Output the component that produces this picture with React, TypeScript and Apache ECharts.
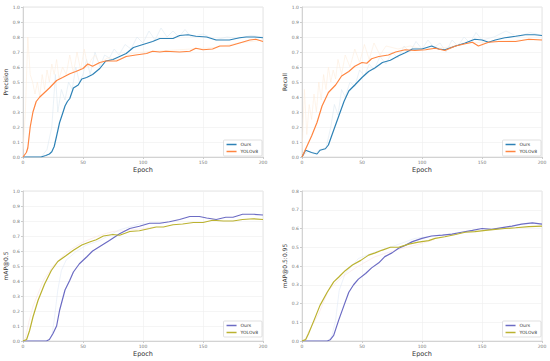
import React, { useEffect, useRef } from "react";
import * as echarts from "echarts";

// ---------- Precision ----------
const pOursX = [0, 10, 15, 19, 22, 24, 26, 28, 30.5, 33, 35, 37, 39, 42, 46, 49, 53, 58, 64, 69, 75, 80.5, 86, 92, 100, 108, 114, 120, 125, 130.5, 137.5, 144, 153, 161, 172, 180.5, 186, 193, 200];
const pOursY = [0, 0, 0, 0.01, 0.02, 0.035, 0.07, 0.14, 0.23, 0.29, 0.34, 0.37, 0.39, 0.46, 0.48, 0.52, 0.53, 0.55, 0.59, 0.64, 0.65, 0.67, 0.69, 0.73, 0.75, 0.77, 0.79, 0.79, 0.79, 0.81, 0.815, 0.805, 0.8, 0.78, 0.78, 0.795, 0.8, 0.8, 0.795];
const pYoloX = [0, 2.8, 4, 5, 6, 8.3, 11, 14, 18, 22, 28, 33, 39, 44, 50, 54, 58, 64, 69, 78, 86, 94, 103, 108, 114, 119, 130.5, 139, 144, 150, 158, 164, 172, 180.5, 189, 194, 200];
const pYoloY = [0, 0.03, 0.06, 0.13, 0.2, 0.3, 0.37, 0.4, 0.43, 0.46, 0.51, 0.53, 0.555, 0.57, 0.59, 0.62, 0.605, 0.63, 0.64, 0.64, 0.67, 0.68, 0.69, 0.705, 0.7, 0.705, 0.7, 0.705, 0.725, 0.715, 0.72, 0.74, 0.74, 0.76, 0.78, 0.785, 0.77];
const pOursRawX = [0, 15, 20, 24, 27, 29, 32, 35, 38, 41, 44, 47, 50, 53, 56, 60, 64, 68, 72, 76, 80, 85, 90, 95, 100, 105, 110, 115, 120, 125, 130, 135, 140, 150, 160, 170, 180, 190, 200];
const pOursRawY = [0, 0, 0.05, 0.2, 0.55, 0.3, 0.45, 0.38, 0.5, 0.45, 0.6, 0.5, 0.55, 0.65, 0.55, 0.7, 0.6, 0.68, 0.66, 0.72, 0.68, 0.75, 0.72, 0.8, 0.76, 0.84, 0.78, 0.86, 0.8, 0.84, 0.8, 0.85, 0.8, 0.82, 0.78, 0.8, 0.79, 0.81, 0.8];
const pYoloRawX = [0, 2, 4, 6, 8, 10, 12, 14, 16, 18, 20, 22, 24, 26, 28, 30, 33, 36, 39, 42, 45, 48, 51, 54, 57, 60, 64, 70, 80, 90, 100, 120, 140, 160, 180, 200];
const pYoloRawY = [0.05, 0.3, 0.8, 0.55, 0.5, 0.42, 0.5, 0.4, 0.55, 0.45, 0.58, 0.5, 0.62, 0.55, 0.65, 0.52, 0.6, 0.55, 0.68, 0.56, 0.7, 0.58, 0.72, 0.6, 0.65, 0.68, 0.62, 0.66, 0.65, 0.69, 0.7, 0.71, 0.72, 0.73, 0.76, 0.78];

// ---------- Recall ----------
const rOursX = [0, 3, 8, 12.5, 15, 19.5, 22, 26, 30.5, 35, 39, 44, 50, 55.5, 61, 67, 73.6, 80.5, 86, 92, 100, 108, 114, 119, 128, 136, 144, 150, 155.5, 161, 169, 178, 186, 194, 200];
const rOursY = [0, 0.045, 0.03, 0.02, 0.045, 0.055, 0.08, 0.17, 0.27, 0.37, 0.44, 0.48, 0.53, 0.57, 0.595, 0.63, 0.645, 0.675, 0.695, 0.72, 0.72, 0.74, 0.72, 0.715, 0.74, 0.76, 0.785, 0.78, 0.765, 0.78, 0.795, 0.805, 0.815, 0.815, 0.81];
const rYoloX = [0, 4, 8, 12.5, 16.7, 22, 28, 33, 39, 44, 50, 54, 58, 64, 72, 78, 86, 94, 103, 111, 119, 128, 136, 142, 147, 155.5, 164, 178, 189, 200];
const rYoloY = [0, 0.07, 0.14, 0.23, 0.34, 0.43, 0.48, 0.54, 0.57, 0.605, 0.63, 0.625, 0.655, 0.67, 0.68, 0.7, 0.715, 0.71, 0.715, 0.725, 0.71, 0.74, 0.755, 0.765, 0.74, 0.765, 0.77, 0.77, 0.785, 0.78];
const rOursRawX = [0, 5, 10, 15, 20, 24, 27, 30, 33, 36, 40, 44, 48, 52, 56, 60, 65, 70, 75, 80, 85, 90, 95, 100, 105, 110, 115, 120, 125, 130, 135, 140, 145, 150, 160, 170, 180, 190, 200];
const rOursRawY = [0, 0.04, 0.02, 0.05, 0.06, 0.2, 0.35, 0.28, 0.45, 0.4, 0.5, 0.47, 0.58, 0.54, 0.62, 0.58, 0.67, 0.62, 0.7, 0.66, 0.74, 0.7, 0.77, 0.72, 0.78, 0.73, 0.76, 0.7, 0.78, 0.74, 0.8, 0.76, 0.83, 0.78, 0.8, 0.84, 0.8, 0.83, 0.81];
const rYoloRawX = [0, 2, 4, 6, 8, 10, 12, 14, 16, 18, 20, 22, 24, 26, 28, 30, 33, 36, 40, 44, 48, 52, 56, 60, 65, 70, 80, 90, 100, 120, 140, 160, 180, 200];
const rYoloRawY = [0.02, 0.45, 0.15, 0.35, 0.25, 0.42, 0.3, 0.5, 0.38, 0.55, 0.45, 0.6, 0.5, 0.58, 0.52, 0.65, 0.55, 0.68, 0.6, 0.72, 0.63, 0.75, 0.65, 0.76, 0.68, 0.74, 0.72, 0.74, 0.72, 0.73, 0.76, 0.77, 0.78, 0.78];

// ---------- mAP@0.5 ----------
const m5OursX = [0, 10, 19.5, 22, 25, 28, 30.5, 35, 39, 42, 47, 53, 58, 64, 72, 80.5, 89, 97, 105.5, 114, 122, 130.5, 139, 147, 153, 161, 169, 175, 183, 192, 200];
const m5OursY = [0, 0, 0, 0.01, 0.05, 0.1, 0.205, 0.34, 0.405, 0.46, 0.515, 0.56, 0.6, 0.63, 0.67, 0.715, 0.75, 0.765, 0.785, 0.785, 0.795, 0.81, 0.83, 0.83, 0.82, 0.81, 0.825, 0.825, 0.845, 0.845, 0.84];
const m5YoloX = [0, 3, 5.5, 8.3, 12.5, 18, 23.6, 29, 36, 42, 49, 55.5, 61, 67, 75, 80.5, 89, 97, 105.5, 111, 117, 125, 133, 142, 150, 158, 167, 175, 183, 192, 200];
const m5YoloY = [0, 0.01, 0.07, 0.16, 0.27, 0.38, 0.47, 0.53, 0.57, 0.605, 0.64, 0.66, 0.675, 0.7, 0.71, 0.705, 0.73, 0.735, 0.75, 0.76, 0.76, 0.775, 0.78, 0.79, 0.79, 0.805, 0.8, 0.8, 0.81, 0.815, 0.81];
const m5OursRawX = [0, 20, 24, 26, 29, 32, 36, 44, 53, 64, 80, 97, 120];
const m5OursRawY = [0, 0, 0.03, 0.14, 0.34, 0.47, 0.54, 0.595, 0.64, 0.67, 0.74, 0.78, 0.79];
const m5YoloRawX = [0, 2, 5, 8.3, 16.7, 25, 36, 50, 64, 75, 90, 110];
const m5YoloRawY = [0, 0.02, 0.13, 0.23, 0.4, 0.5, 0.59, 0.66, 0.705, 0.73, 0.74, 0.76];

// ---------- mAP@0.5:0.95 ----------
const m95OursX = [0, 10, 21, 23.6, 26.4, 30.5, 35, 39, 43, 47, 53, 58, 64, 69, 75, 80.5, 86, 92, 100, 108, 117, 125, 133, 142, 150, 158, 167, 175, 183, 192, 200];
const m95OursY = [0, 0, 0, 0.007, 0.03, 0.11, 0.19, 0.26, 0.3, 0.33, 0.36, 0.39, 0.417, 0.45, 0.47, 0.495, 0.51, 0.53, 0.547, 0.56, 0.565, 0.57, 0.58, 0.59, 0.6, 0.595, 0.605, 0.613, 0.623, 0.63, 0.623];
const m95YoloX = [0, 3, 5.5, 10, 15, 21, 26.4, 30.5, 36, 42, 49, 55.5, 61, 67, 73.6, 80.5, 89, 97, 105.5, 111, 119, 128, 136, 144, 153, 161, 169, 178, 189, 200];
const m95YoloY = [0, 0.007, 0.04, 0.11, 0.19, 0.26, 0.315, 0.34, 0.375, 0.405, 0.43, 0.458, 0.47, 0.485, 0.5, 0.5, 0.517, 0.527, 0.535, 0.547, 0.556, 0.568, 0.58, 0.583, 0.59, 0.595, 0.6, 0.604, 0.61, 0.613];
const m95OursRawX = [0, 22, 25, 28, 31, 36, 47, 61, 78, 94, 115];
const m95OursRawY = [0, 0, 0.03, 0.11, 0.27, 0.36, 0.44, 0.475, 0.51, 0.547, 0.565];
const m95YoloRawX = [0, 3, 5.5, 14, 22, 33, 47, 61, 78, 94, 110];
const m95YoloRawY = [0, 0.01, 0.05, 0.146, 0.27, 0.34, 0.4, 0.45, 0.485, 0.51, 0.54];

const xName = "Epoch";
const yNames = ["Precision", "Recall", "mAP@0.5", "mAP@0.5:0.95"];
const yMaxes = [1.0, 1.0, 1.0, 0.8];
const seriesNames = ["Ours", "YOLOv8"];

const zip = (xs: number[], ys: number[]) => xs.map((x, i) => [x, ys[i]]);

export default function App() {
  const ref = useRef<HTMLDivElement>(null);
  useEffect(() => {
    document.body.style.margin = "0";
    if (!ref.current) return;
    const chart = echarts.init(ref.current, null, { renderer: "svg" });

    const grids = [
      { left: 23, top: 7, width: 240, height: 150 },
      { left: 302, top: 7, width: 240, height: 150 },
      { left: 23, top: 191, width: 240, height: 150 },
      { left: 302, top: 191, width: 240, height: 150 },
    ];
    const topColors = ["#2e82b6", "#ff8540"];
    const botColors = ["#6c6cc4", "#bbb230"];
    const topRaw = ["#dde9f2", "#fdecdc"];
    const botRaw = ["#e0eaf6", "#fae3e3"];
    const colorsFor = (i: number) => (i < 2 ? topColors : botColors);
    const rawFor = (i: number) => (i < 2 ? topRaw : botRaw);

    const panels = [
      { ours: zip(pOursX, pOursY), yolo: zip(pYoloX, pYoloY), oursRaw: zip(pOursRawX, pOursRawY), yoloRaw: zip(pYoloRawX, pYoloRawY) },
      { ours: zip(rOursX, rOursY), yolo: zip(rYoloX, rYoloY), oursRaw: zip(rOursRawX, rOursRawY), yoloRaw: zip(rYoloRawX, rYoloRawY) },
      { ours: zip(m5OursX, m5OursY), yolo: zip(m5YoloX, m5YoloY), oursRaw: zip(m5OursRawX, m5OursRawY), yoloRaw: zip(m5YoloRawX, m5YoloRawY) },
      { ours: zip(m95OursX, m95OursY), yolo: zip(m95YoloX, m95YoloY), oursRaw: zip(m95OursRawX, m95OursRawY), yoloRaw: zip(m95YoloRawX, m95YoloRawY) },
    ];

    const font = "DejaVu Sans";
    const series: any[] = [];
    panels.forEach((p, i) => {
      const c = colorsFor(i);
      const rc = rawFor(i);
      series.push(
        { type: "line", name: "raw_ours_" + i, xAxisIndex: i, yAxisIndex: i, data: p.oursRaw, showSymbol: false, symbol: "none", lineStyle: { color: rc[0], width: 0.6 }, z: 1, silent: true },
        { type: "line", name: "raw_yolo_" + i, xAxisIndex: i, yAxisIndex: i, data: p.yoloRaw, showSymbol: false, symbol: "none", lineStyle: { color: rc[1], width: 0.6 }, z: 1, silent: true },
        { type: "line", name: seriesNames[0], xAxisIndex: i, yAxisIndex: i, data: p.ours, showSymbol: false, symbol: "none", lineStyle: { color: c[0], width: 1.2 }, itemStyle: { color: c[0] }, z: 3 },
        { type: "line", name: seriesNames[1], xAxisIndex: i, yAxisIndex: i, data: p.yolo, showSymbol: false, symbol: "none", lineStyle: { color: c[1], width: 1.2 }, itemStyle: { color: c[1] }, z: 3 }
      );
    });

    const legendPos = [
      { right: 288, bottom: 205 },
      { right: 9, bottom: 205 },
      { right: 288, bottom: 24 },
      { right: 9, bottom: 24 },
    ];

    chart.setOption({
      animation: false,
      backgroundColor: "#ffffff",
      grid: grids.map((g) => ({ ...g, show: true, borderColor: "#dddddd", borderWidth: 0.8, backgroundColor: "transparent" })),
      xAxis: grids.map((_, i) => ({
        type: "value",
        gridIndex: i,
        min: 0,
        max: 200,
        interval: 50,
        axisLine: { show: true, lineStyle: { color: "#cccccc", width: 0.8 } },
        axisTick: { show: true, length: 2, lineStyle: { color: "#cccccc" } },
        axisLabel: { fontFamily: font, fontSize: 4.5, color: "#777777", margin: 3 },
        splitLine: { show: true, lineStyle: { color: "#eeeeee", width: 0.6 } },
      })),
      yAxis: grids.map((_, i) => ({
        type: "value",
        gridIndex: i,
        min: 0,
        max: yMaxes[i],
        interval: 0.1,
        name: yNames[i],
        nameLocation: "middle",
        nameGap: 15,
        nameTextStyle: { fontFamily: font, fontSize: 6, color: "#333333" },
        axisLine: { show: true, lineStyle: { color: "#cccccc", width: 0.8 } },
        axisTick: { show: true, length: 2, lineStyle: { color: "#cccccc" } },
        axisLabel: { fontFamily: font, fontSize: 4.5, color: "#777777", margin: 3, formatter: (v: number) => v.toFixed(1) },
        splitLine: { show: true, lineStyle: { color: "#eeeeee", width: 0.6 } },
      })),
      graphic: grids.map((g) => ({
        type: "text",
        x: g.left + g.width / 2,
        y: g.top + g.height + 13,
        style: { text: xName, fontFamily: font, fontSize: 6.5, fill: "#333333", align: "center", verticalAlign: "middle" },
        silent: true,
      })),
      legend: legendPos.map((pos, i) => ({
        ...pos,
        orient: "vertical",
        backgroundColor: "#ffffff",
        borderColor: "#cccccc",
        borderWidth: 0.6,
        borderRadius: 1,
        padding: [2, 4, 2, 3],
        itemGap: 2,
        itemWidth: 10,
        itemHeight: 1.5,
        textStyle: { fontFamily: font, fontSize: 4.5, color: "#333333", padding: [0, 0, 0, -1] },
        data: seriesNames.map((n, k) => ({ name: n, icon: "rect", itemStyle: { color: colorsFor(i)[k] } })),
        selectedMode: false,
      })),
      series,
    });
    return () => chart.dispose();
  }, []);
  return <div ref={ref} style={{ width: 550, height: 361, position: "absolute", left: 0, top: 0 }} />;
}
